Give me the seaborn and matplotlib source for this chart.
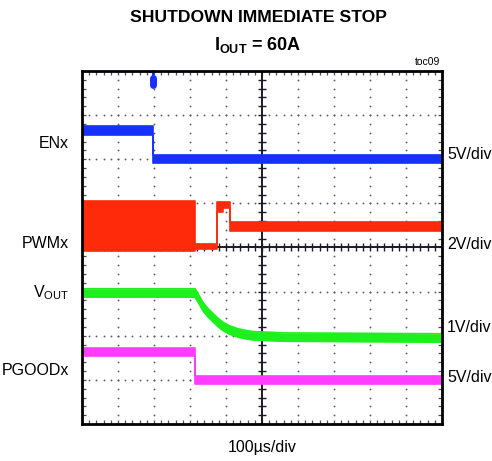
import numpy as np
import pandas as pd
import matplotlib
matplotlib.use("Agg")
import matplotlib.pyplot as plt
from matplotlib.ticker import MultipleLocator
import seaborn as sns

# ---- scope traces (time in µs, level in screen divisions) ----
en_t = [0, 197, 197, 1000]
en_lvl = [6.65, 6.65, 6.0, 6.0]

pwm_t = [0, 314, 314, 375, 375, 393, 393, 411, 411, 1000]
pwm_hi = [5.05, 5.05, 4.07, 4.07, 5.03, 5.03, 5.03, 5.03, 4.57, 4.57]
pwm_lo = [3.93, 3.93, 3.96, 3.96, 4.80, 4.80, 4.90, 4.90, 4.37, 4.37]

vout_t = [0, 314, 325, 336, 350, 364, 378, 392, 410, 431, 452, 475, 560, 1000]
vout_lvl = [2.97, 2.97, 2.82, 2.66, 2.52, 2.41, 2.30, 2.21, 2.13, 2.07, 2.03, 2.00, 1.97, 1.95]

pg_t = [0, 314, 314, 1000]
pg_lvl = [1.63, 1.63, 1.0, 1.0]

trig_t = 197

left_labels = ["ENx", "PWMx", r"$\mathrm{V}_{\mathrm{OUT}}$", "PGOODx"]
right_labels = ["5V/div", "2V/div", "1V/div", "5V/div"]

sns.set_style("white")
plt.rcParams["font.family"] = ["Liberation Sans", "DejaVu Sans"]
plt.rcParams["text.color"] = "black"
plt.rcParams["mathtext.fontset"] = "custom"
plt.rcParams["mathtext.rm"] = "Liberation Sans"
plt.rcParams["mathtext.bf"] = "Liberation Sans:bold"

W, H = 492, 461
fig = plt.figure(figsize=(W / 100, H / 100), dpi=100)
ax = fig.add_axes([82 / W, 37 / H, 360 / W, 353 / H])
ax.set_xlim(0, 1000)
ax.set_ylim(0, 8)

# dotted graticule
dot_c = "#5a5a78"
for i in range(1, 10):
    if i == 5:
        continue
    ys = np.arange(0, 8.01, 0.2)
    ax.scatter(np.full_like(ys, i * 100.0), ys, s=1.8, color=dot_c, linewidths=0, zorder=1)
for j in range(1, 8):
    if j == 4:
        continue
    xs = np.arange(0, 1000.1, 20)
    ax.scatter(xs, np.full_like(xs, float(j)), s=1.8, color=dot_c, linewidths=0, zorder=1)

# solid center cross with tick marks
ax.axvline(500, color="#1a1a2a", lw=1.4, zorder=1)
ax.axhline(4, color="#1a1a2a", lw=1.4, zorder=1)
xs = np.arange(0, 1000.1, 20)
ys = np.arange(0, 8.01, 0.2)
ax.plot(xs, np.full_like(xs, 4.0), ls="none", marker="|", ms=6, mew=1.0, color="#1a1a2a", zorder=1)
ax.plot(np.full_like(ys, 500.0), ys, ls="none", marker="_", ms=6, mew=1.0, color="#1a1a2a", zorder=1)


def band(t, lo, hi, color):
    ax.fill_between(t, lo, hi, color=color, lw=0, zorder=3)
    sns.lineplot(x=t, y=lo, color=color, lw=1.2, sort=False, estimator=None, ax=ax, zorder=3)
    sns.lineplot(x=t, y=hi, color=color, lw=1.2, sort=False, estimator=None, ax=ax, zorder=3)


half = 0.095
en = np.array(en_lvl)
band(en_t, en - half, en + half, "#1530ff")
band(pwm_t, pwm_lo, pwm_hi, "#ff2a0a")
vo = np.array(vout_lvl)
band(vout_t, vo - half, vo + half, "#1ef01e")
pg = np.array(pg_lvl)
band(pg_t, pg - half, pg + half, "#ff3cff")

# trigger marker
ax.plot([trig_t, trig_t], [8.0, 7.8], color="#1530ff", lw=1.5, zorder=4, clip_on=False)
ax.plot([trig_t - 6, trig_t + 6], [7.97, 7.97], color="#1530ff", lw=1.5, zorder=4, clip_on=False)
ax.plot([trig_t, trig_t], [7.84, 7.68], color="#1530ff", lw=5, solid_capstyle="round", zorder=4)

# frame and edge ticks
ax.xaxis.set_major_locator(MultipleLocator(20))
ax.yaxis.set_major_locator(MultipleLocator(0.2))
ax.tick_params(which="both", direction="in", length=3, width=0.9, color="#4a4a6a",
               top=True, right=True, bottom=True, left=True,
               labelbottom=False, labelleft=False)
for s in ax.spines.values():
    s.set_visible(True)
    s.set_color("black")
    s.set_linewidth(2)
    s.set_zorder(5)
ax.set_xlabel("")
ax.set_ylabel("")


def ftext(x, y, s, **kw):
    fig.text(x / W, 1 - y / H, s, **kw)


ftext(258, 17, "SHUTDOWN IMMEDIATE STOP", ha="center", va="center",
      fontsize=12.6, fontweight="bold")
ftext(258, 45, r"$\mathbf{I}_{\mathbf{OUT}}$ = 60A", ha="center", va="center",
      fontsize=13, fontweight="bold")
ftext(440, 62, "toc09", ha="right", va="center", fontsize=7.5)

for s, yb in zip(left_labels, [148, 248, 297, 375]):
    ftext(69, yb, s, ha="right", va="baseline", fontsize=11.5)
for s, yb in zip(right_labels, [159, 249, 332, 382]):
    ftext(447, yb, s, ha="left", va="baseline", fontsize=11.5)
ftext(262, 452, "100µs/div", ha="center", va="baseline", fontsize=11.5)

fig.savefig("out.png", dpi=100)
